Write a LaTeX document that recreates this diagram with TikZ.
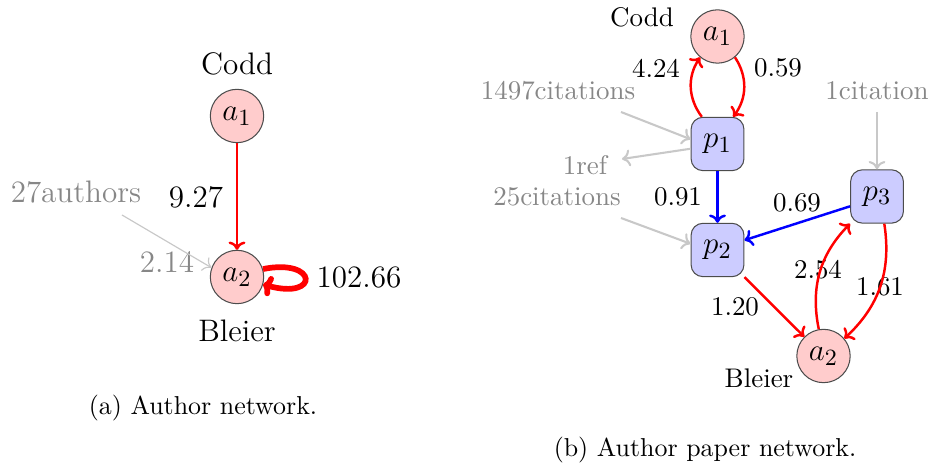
\documentclass[tikz,border=0pt]{standalone}
\usetikzlibrary{arrows.meta}
\definecolor{authfill}{RGB}{255,204,204}
\definecolor{paperfill}{RGB}{204,204,255}
\definecolor{lgray}{RGB}{200,200,200}
\definecolor{tgray}{RGB}{135,135,135}
\begin{document}
\begin{tikzpicture}[x=0.386pt,y=-0.386pt,
  author/.style={circle,draw=black!70,fill=authfill,minimum size=20.6pt,inner sep=0pt,font=\fontsize{13}{15}\selectfont},
  paper/.style={rectangle,rounded corners=4.6pt,draw=black!70,fill=paperfill,minimum width=20.4pt,minimum height=20.6pt,inner sep=0pt,font=\fontsize{13}{15}\selectfont},
  redarr/.style={draw=red,line width=0.95pt,-{To[length=3.2pt,width=6.5pt]}},
  bluearr/.style={draw=blue,line width=0.95pt,-{To[length=3.2pt,width=6.5pt]}},
  grayarr/.style={draw=lgray,line width=0.8pt,-{To[length=3.2pt,width=6.5pt]}},
  thingray/.style={draw=lgray,line width=0.45pt,-{To[length=3pt,width=6pt]}},
  ltxt/.style={inner sep=0pt,font=\fontsize{12}{14}\selectfont},
  rtxt/.style={inner sep=0pt,font=\fontsize{10.4}{12}\selectfont},
  capt/.style={inner sep=0pt,font=\fontsize{10}{12}\selectfont}]
\useasboundingbox (0,0) rectangle (930,466);
% ---------- (a) ----------
\node[author] (la1) at (237,116) {$a_1$};
\node[author] (la2) at (237,277) {$a_2$};
\node[ltxt] (lcodd) at (237,64) {Codd};
\node[ltxt] (lbleier) at (237,331) {Bleier};
\node[ltxt] (l927) at (196,197) {9.27};
\node[ltxt,text=tgray] (l27) at (76,192) {27authors};
\node[ltxt,text=tgray] (l214) at (167,262) {2.14};
\node[ltxt] (l10266) at (359,277) {102.66};
\coordinate (l27s) at (122,215);
\draw[redarr] (la1) -- (la2);
\draw[thingray] (l27s) -- (la2.160);
\draw[draw=red,line width=2.2pt,-{To[length=3.5pt,width=8pt]}] (la2.17) .. controls (318,258) and (320,300) .. (la2.-16);
\node[capt] (capa) at (203,408) {(a) Author network.};
% ---------- (b) ----------
\node[author] (a1) at (717.5,36.5) {$a_1$};
\node[paper] (p1) at (717.5,144) {$p_1$};
\node[paper] (p2) at (717.5,250) {$p_2$};
\node[paper] (p3) at (877,196.5) {$p_3$};
\node[author] (a2) at (823.5,356) {$a_2$};
\node[rtxt] (rcodd) at (642,17) {Codd};
\node[rtxt] (rbleier) at (759,378) {Bleier};
\node[rtxt] (r424) at (656,68) {4.24};
\node[rtxt] (r059) at (778,68) {0.59};
\node[rtxt,text=tgray] (r1497) at (558,91) {1497citations};
\node[rtxt,text=tgray] (r1ref) at (585,165) {1ref};
\node[rtxt,text=tgray] (r25) at (557,197) {25citations};
\node[rtxt,text=tgray] (r1cit) at (877,91) {1citation};
\node[rtxt] (r091) at (678,197) {0.91};
\node[rtxt] (r069) at (797,203) {0.69};
\node[rtxt] (r254) at (818,270) {2.54};
\node[rtxt] (r161) at (880,287) {1.61};
\node[rtxt] (r120) at (735,307) {1.20};
\coordinate (s1497) at (621,112);
\coordinate (e1ref) at (622,159);
\coordinate (s25) at (621,218);
\coordinate (s1cit) at (877,112);
\draw[redarr] (a1.-50) to[bend left=35] (p1.60);
\draw[redarr] (p1.120) to[bend left=35] (a1.-130);
\draw[grayarr] (s1497) -- (p1.170);
\draw[grayarr] (p1.190) -- (e1ref);
\draw[grayarr] (s25) -- (p2.167);
\draw[grayarr] (s1cit) -- (p3.north);
\draw[bluearr] (p1) -- (p2);
\draw[bluearr] (p3.200) -- (p2.20);
\draw[redarr] (p2.south east) -- (a2.135);
\draw[redarr] (a2.100) to[bend left=28] (p3.south west);
\draw[redarr] (p3.-75) to[bend left=28] (a2.40);
\node[capt] (capb) at (705,450) {(b) Author paper network.};
\end{tikzpicture}
\end{document}
